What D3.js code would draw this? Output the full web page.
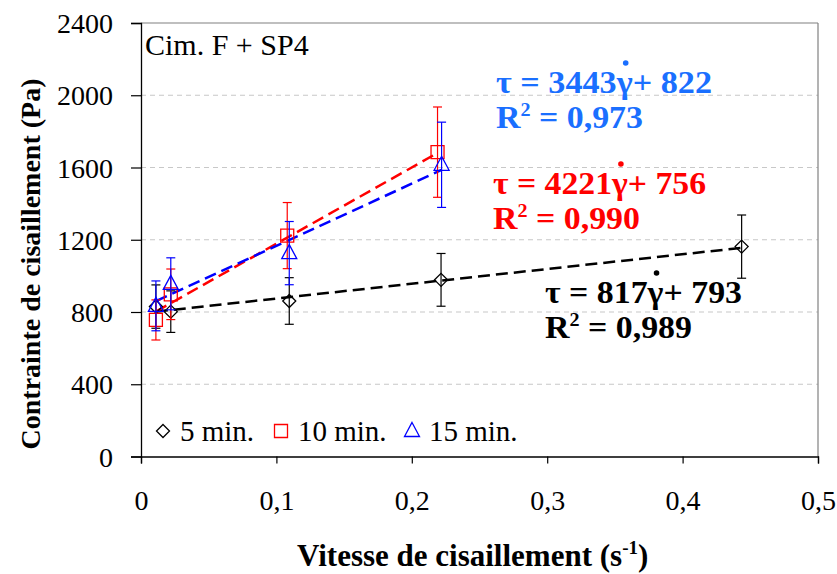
<!DOCTYPE html>
<html><head><meta charset="utf-8">
<script src="https://cdn.jsdelivr.net/npm/d3@7"></script>
<style>body{margin:0;background:#fff}svg{display:block}</style>
</head><body><svg id="c" width="837" height="574"></svg>
<script>
const xTicks = [0, 0.1, 0.2, 0.3, 0.4, 0.5];
const yTicks = [0, 400, 800, 1200, 1600, 2000, 2400];
const seriesNames = ["5 min.", "10 min.", "15 min."];
const x5 = [0.011, 0.022, 0.1095, 0.2216, 0.4436];
const y5 = [830, 802, 861, 978, 1162];
const e5 = [120, 115, 129, 146, 175];
const x10 = [0.011, 0.022, 0.108, 0.219];
const y10 = [756, 898, 1223, 1685];
const e10 = [111, 140, 183, 250];
const x15 = [0.011, 0.022, 0.1095, 0.222];
const y15 = [834, 956, 1126, 1615];
const e15 = [138, 144, 175, 236];
const slopes = [817, 4221, 3443];
const intercepts = [793, 756, 822];
const r2 = ["0,989", "0,990", "0,973"];

const FF = '"Liberation Serif","Times New Roman",Times,serif';
const svg = d3.select("#c").style("font-family", FF);
const L = 141, R = 818, T = 23, B = 456.5;
const x = d3.scaleLinear().domain([0, 0.5]).range([L, R]);
const y = d3.scaleLinear().domain([0, 2400]).range([B, T]);

function txt(sel) { return sel.append("text").attr("font-family", FF).style("font-family", FF); }
function fit(t, w) { t.attr("textLength", w).attr("lengthAdjust", "spacingAndGlyphs"); return t; }

// grid
svg.append("g").selectAll("line").data(yTicks.filter(d => d > 0 && d < 2400)).join("line")
  .attr("x1", L).attr("x2", R).attr("y1", d => y(d)).attr("y2", d => y(d))
  .attr("stroke", "#c8c8c8").attr("stroke-width", 1.2).attr("stroke-dasharray", "5,4");
svg.append("line").attr("x1", L).attr("x2", R).attr("y1", T).attr("y2", T).attr("stroke", "#808080").attr("stroke-width", 1.2);
svg.append("line").attr("x1", R).attr("x2", R).attr("y1", T).attr("y2", B).attr("stroke", "#808080").attr("stroke-width", 1.2);

const fmt = d => String(d).replace(".", ",");
const ax = svg.append("g").attr("transform", `translate(0,${B})`)
  .call(d3.axisBottom(x).tickValues(xTicks).tickFormat(fmt).tickSize(7));
const ay = svg.append("g").attr("transform", `translate(${L},0)`)
  .call(d3.axisLeft(y).tickValues(yTicks).tickFormat(d => String(d)).tickSize(10).tickPadding(18));
[ax, ay].forEach(g => {
  g.attr("font-family", FF);
  g.select(".domain").attr("stroke", "#000").attr("stroke-width", 1.3);
  g.selectAll(".tick line").attr("stroke", "#000").attr("stroke-width", 1.2);
  g.selectAll(".tick text").attr("font-size", 28).attr("fill", "#000").attr("font-family", FF).style("font-family", FF);
});
ax.selectAll(".tick text").attr("y", 53).attr("dy", 0);
ay.selectAll(".tick text").attr("dy", "0.34em");

// axis titles
txt(svg).attr("x", 297).attr("y", 566).attr("font-size", 31).attr("font-weight", "bold")
  .html('Vitesse de cisaillement (s<tspan dy="-12" font-size="19">-1</tspan><tspan dy="12">)</tspan>');
txt(svg).attr("transform", `translate(40,264) rotate(-90)`).attr("text-anchor", "middle")
  .attr("font-size", 28).attr("font-weight", "bold").text("Contrainte de cisaillement (Pa)");

txt(svg).attr("x", 145).attr("y", 55).attr("font-size", 30).text("Cim. F + SP4");

const series = [
  {xs: x5, ys: y5, es: e5, color: "#000", shape: "diamond"},
  {xs: x10, ys: y10, es: e10, color: "#ff0000", shape: "square"},
  {xs: x15, ys: y15, es: e15, color: "#0000ff", shape: "triangle"}
];
const lineColors = ["#000", "#ff0000", "#0000ff"];

function shapePath(shape, cx, cy) {
  if (shape === "diamond") return `M${cx},${cy-6.5}L${cx+6.5},${cy}L${cx},${cy+6.5}L${cx-6.5},${cy}Z`;
  if (shape === "square") return `M${cx-6.5},${cy-6.5}H${cx+6.5}V${cy+6.5}H${cx-6.5}Z`;
  return `M${cx},${cy-8.5}L${cx+7.5},${cy+5.5}L${cx-7.5},${cy+5.5}Z`;
}

series.forEach((s, i) => {
  const x0 = d3.min(s.xs), x1 = d3.max(s.xs);
  svg.append("line").attr("x1", x(x0)).attr("x2", x(x1))
    .attr("y1", y(slopes[i] * x0 + intercepts[i])).attr("y2", y(slopes[i] * x1 + intercepts[i]))
    .attr("stroke", lineColors[i]).attr("stroke-width", 2.5).attr("stroke-dasharray", "12,6");
});
series.forEach(s => {
  const g = svg.append("g");
  s.xs.forEach((xv, j) => {
    const cx = x(xv), yt = y(s.ys[j] + s.es[j]), yb = y(s.ys[j] - s.es[j]);
    g.append("line").attr("x1", cx).attr("x2", cx).attr("y1", yt).attr("y2", yb).attr("stroke", s.color).attr("stroke-width", 1.2);
    [yt, yb].forEach(yy => g.append("line").attr("x1", cx - 4.5).attr("x2", cx + 4.5).attr("y1", yy).attr("y2", yy).attr("stroke", s.color).attr("stroke-width", 1.2));
    g.append("path").attr("d", shapePath(s.shape, cx, y(s.ys[j]))).attr("fill", "none").attr("stroke", s.color).attr("stroke-width", 1.3);
  });
});

// legend
const legX = [163, 281, 412];
series.forEach((s, i) => {
  svg.append("path").attr("d", shapePath(s.shape, legX[i], 431)).attr("fill", "none").attr("stroke", s.color).attr("stroke-width", 1.3);
  txt(svg).attr("x", legX[i] + 17).attr("y", 441).attr("font-size", 29).text(seriesNames[i]);
});

// equations
const eqColors = ["#000", "#ff0000", "#1a6fff"];
const eqX = [545, 493, 496];
const eqY1 = [303, 194, 93];
const eqY2 = [338, 229, 128];
const eqW1 = [197, 213, 216];
const eqW2 = [147, 147, 147];
series.forEach((s, i) => {
  const t = fit(txt(svg).attr("x", eqX[i]).attr("y", eqY1[i]).attr("font-size", 32).attr("font-weight", "bold").attr("fill", eqColors[i])
    .text(`τ = ${slopes[i]}γ+ ${intercepts[i]}`), eqW1[i]);
  const idx = t.text().indexOf("γ");
  const ext = t.node().getExtentOfChar(idx);
  svg.append("circle").attr("cx", ext.x + ext.width / 2 + 1).attr("cy", eqY1[i] - 30).attr("r", 2.8).attr("fill", eqColors[i]);
  fit(txt(svg).attr("x", eqX[i]).attr("y", eqY2[i]).attr("font-size", 32).attr("font-weight", "bold").attr("fill", eqColors[i])
    .html(`R<tspan dy="-12" font-size="19">2</tspan><tspan dy="12"> = ${r2[i]}</tspan>`), eqW2[i]);
});
</script></body></html>
